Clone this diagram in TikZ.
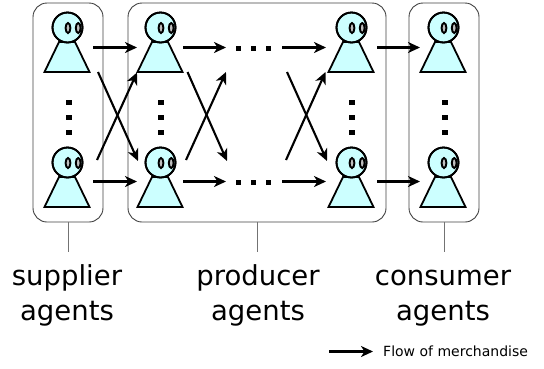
\documentclass[tikz,border=0pt]{standalone}
\usepackage{fontspec}
\setmainfont{DejaVu Sans}
\usetikzlibrary{arrows.meta}
\definecolor{skin}{HTML}{CCFFFF}
\tikzset{
  x=1pt,y=-1pt,
  groupbox/.style={draw=black!75,line width=0.9pt,rounded corners=14pt,inner sep=0pt,minimum height=219pt},
  leader/.style={draw=black!55,line width=0.9pt},
  flow/.style={draw=black,line width=2.1pt,-{Stealth[length=12pt,width=11pt,inset=3.5pt]}},
  dotmark/.style={fill=black,minimum size=5.5pt,inner sep=0pt,draw=none,rectangle},
  biglabel/.style={align=center,font=\fontsize{27.5}{35}\selectfont,inner sep=0pt,anchor=base},
  smalllabel/.style={font=\fontsize{14}{16}\selectfont,inner sep=0pt,anchor=base west},
  pics/agent/.style={code={
    \draw[fill=skin,line width=1.8pt,line join=miter] (-8,0) -- (-22.5,30) -- (22.5,30) -- (8,0) -- cycle;
    \draw[fill=skin,line width=1.8pt] (0.5,-14.5) circle[radius=15];
    \begin{scope}
      \clip (0.5,-14.5) circle[radius=15];
      \draw[fill=black!25,line width=1.9pt] (1,-14) ellipse[x radius=2.4,y radius=5];
      \draw[fill=black!25,line width=1.9pt] (11.2,-14) ellipse[x radius=2.4,y radius=5];
    \end{scope}
    \draw[line width=1.8pt] (0.5,-14.5) circle[radius=15];
  }},
}
\begin{document}
\begin{tikzpicture}
\useasboundingbox (0,0) rectangle (544,368);
% groups
\node[groupbox,minimum width=70pt] (sup) at (68,112.5) {};
\node[groupbox,minimum width=258pt] (pro) at (257,112.5) {};
\node[groupbox,minimum width=70pt] (con) at (444,112.5) {};
% agents
\foreach \x in {67,160,351,443}{
  \pic at (\x,42) {agent};
  \pic at (\x,177) {agent};
}
% vertical dots
\foreach \n/\x in {a/69,b/161,c/352,d/445}
  \foreach \m/\y in {1/102.5,2/117.5,3/132.5}
    \node[dotmark] (v\n\m) at (\x,\y) {};
% horizontal dots
\foreach \m/\x in {1/238.5,2/253.5,3/268.5}{
  \node[dotmark] (t\m) at (\x,48.5) {};
  \node[dotmark] (u\m) at (\x,182.5) {};
}
% arrow ends
\foreach \n/\x/\y in {
  a1/93/47.5,b1/137/47.5,a2/183/47.5,b2/226/47.5,a3/282/47.5,b3/326/47.5,a4/377/47.5,b4/420/47.5,
  c1/93/181.5,d1/137/181.5,c2/183/181.5,d2/226/181.5,c3/282/181.5,d3/326/181.5,c4/377/181.5,d4/420/181.5,
  e1/98/72,f1/138/161,g1/97/160,h1/137/72.5,
  e2/187.5/72,f2/227/161,g2/186/160,h2/226/72,
  e3/287/72,f3/327/161,g3/286/160,h3/325.5/72,
  k/329/351.5,l/373/351.5,
  ls/68/252,lp/257/252,lc/444/252}
  \coordinate (\n) at (\x,\y);
\foreach \i in {1,2,3,4}{
  \draw[flow] (a\i) -- (b\i);
  \draw[flow] (c\i) -- (d\i);
}
\foreach \i in {1,2,3}{
  \draw[flow] (e\i) -- (f\i);
  \draw[flow] (g\i) -- (h\i);
}
\draw[flow] (k) -- (l);
% leaders
\draw[leader] (sup.south) -- (ls);
\draw[leader] (pro.south) -- (lp);
\draw[leader] (con.south) -- (lc);
% labels
\node[biglabel] (t1) at (67,320) {supplier\\agents};
\node[biglabel] (t2) at (258,320) {producer\\agents};
\node[biglabel] (t3) at (443,320) {consumer\\agents};
\node[smalllabel] (t4) at (383,356) {Flow of merchandise};
\end{tikzpicture}
\end{document}
